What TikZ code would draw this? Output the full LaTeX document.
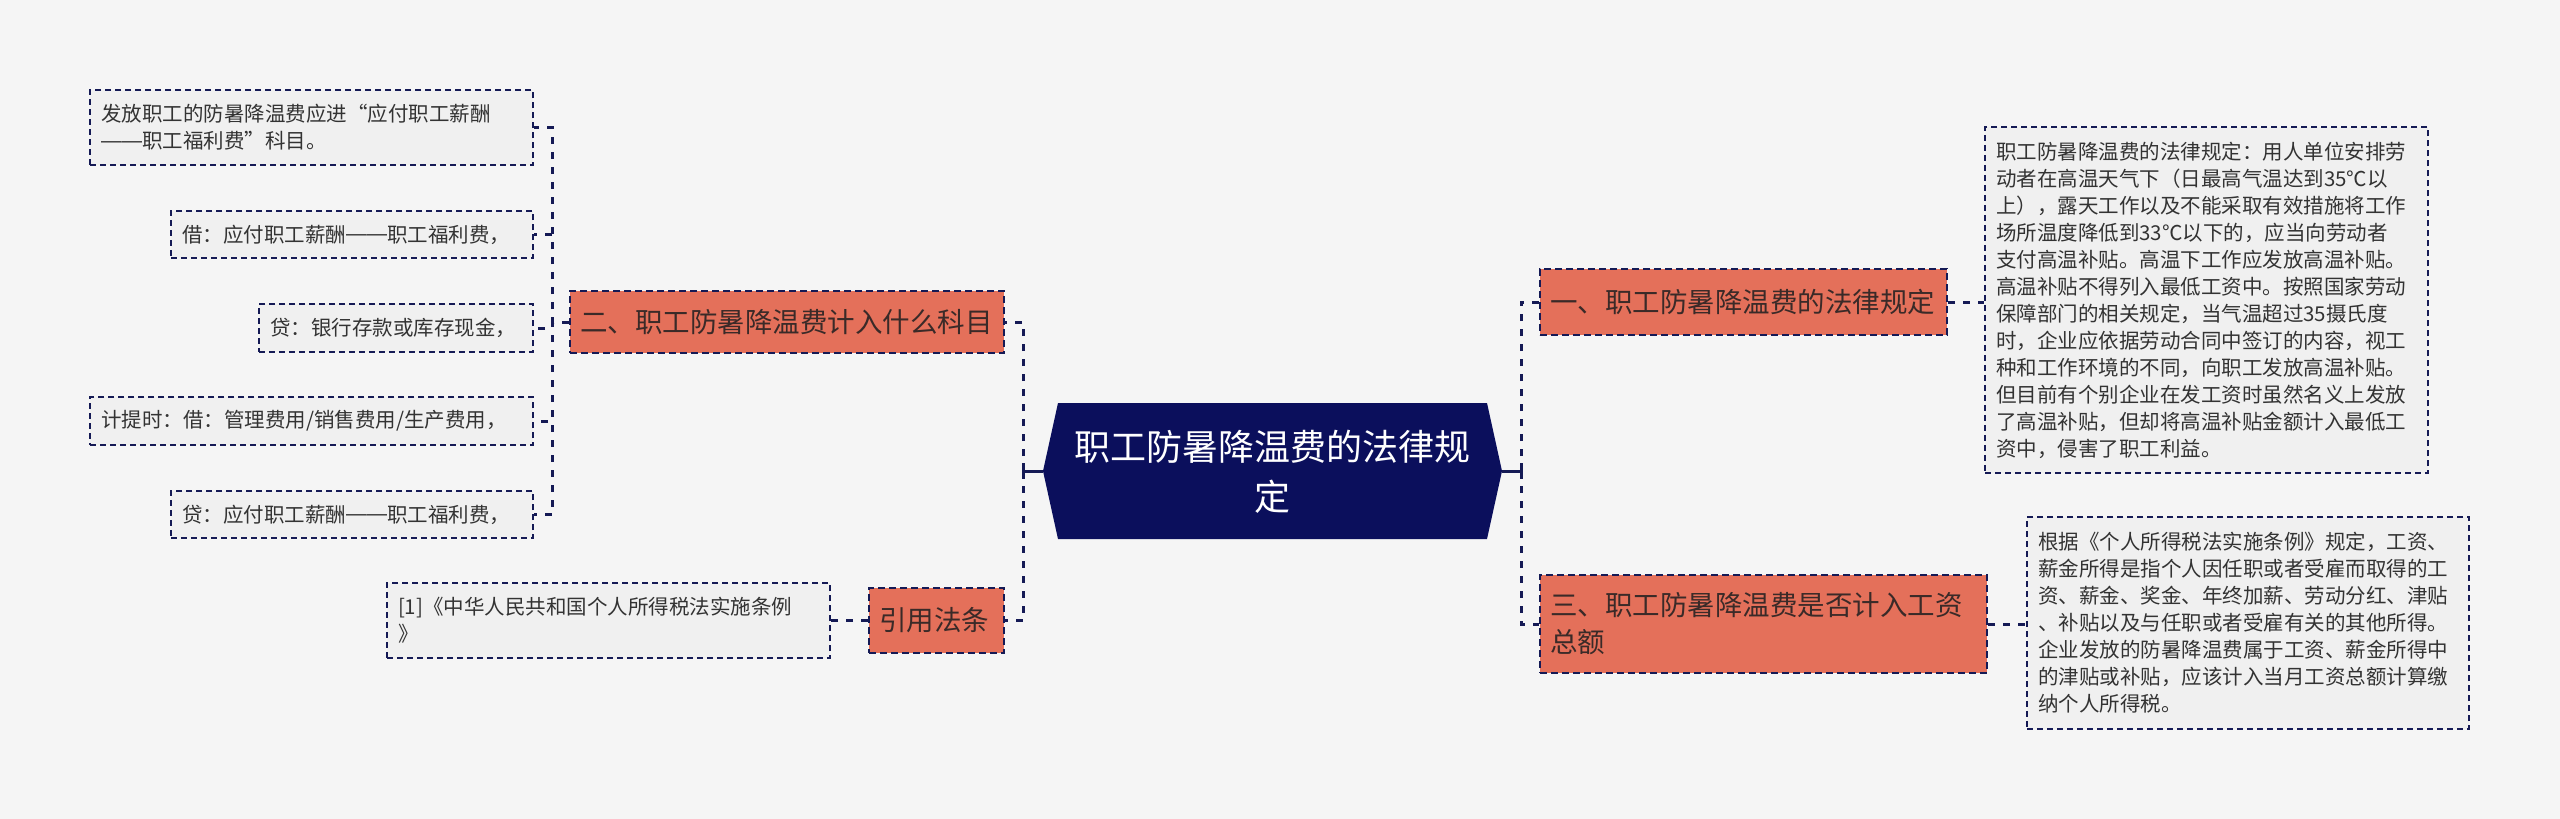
\documentclass[tikz,border=0pt]{standalone}
\usepackage{fontspec}
\setmainfont{Noto Sans CJK SC}
\newfontfamily\dashfont{Liberation Sans}
\usetikzlibrary{calc}
\newcommand\fw[1]{{\addfontfeatures{RawFeature=+fwid}#1}}
\newcommand\dd{{\dashfont\raisebox{0.07em}{——}}}
\definecolor{bgc}{HTML}{F5F5F5}
\definecolor{navy}{HTML}{0B0F5C}
\definecolor{lnc}{HTML}{151A55}
\definecolor{salmon}{HTML}{E4705A}
\definecolor{boxc}{HTML}{F0F0F0}
\definecolor{txt}{HTML}{333333}
\definecolor{ltxt}{HTML}{3A2A28}
\begin{document}
\begin{tikzpicture}[x=1pt,y=-1pt,
  leaf/.style={draw=lnc, line width=2pt, dash pattern=on 6pt off 4pt, fill=boxc,
    inner xsep=11pt, inner ysep=0pt, align=left, text=txt,
    font=\fontsize{20.5}{27}\selectfont},
  lvl/.style={draw=lnc, line width=2pt, dash pattern=on 7pt off 4pt, fill=salmon,
    inner xsep=10pt, inner ysep=0pt, align=left, text=ltxt,
    font=\fontsize{27.5}{37}\selectfont},
  hub/.style={text=white, align=center, font=\fontsize{36}{50}\selectfont},
  conn/.style={draw=lnc, line width=3pt, dash pattern=on 7pt off 8pt},
  stub/.style={draw=lnc, line width=3pt}]
\fill[bgc] (0,0) rectangle (2560,819);
\useasboundingbox (0,0) rectangle (2560,819);

% central topic
\fill[navy] (1043,471) -- (1058,403) -- (1487,403) -- (1502,471) -- (1487,539) -- (1058,539) -- cycle;
\node[hub] (c) at (1272.5,472) {职工防暑降温费的法律规\\定};
\coordinate (cL) at (1043,471);
\coordinate (cR) at (1502,471);

% level 1
\node[lvl, text width=387pt, minimum height=66pt] (n1) at (1743.5,302) {一、职工防暑降温费的法律规定};
\node[lvl, text width=414pt, minimum height=62pt] (n2) at (787,322) {二、职工防暑降温费计入什么科目};
\node[lvl, text width=427pt, minimum height=98pt] (n3) at (1763.5,624) {三、职工防暑降温费是否计入工资\\总额};
\node[lvl, text width=115pt, minimum height=65pt] (n4) at (936.5,620.5) {引用法条};

% leaves right
\node[leaf, text width=421pt, minimum height=346pt] (t1) at (2206.5,300) {职工防暑降温费的法律规定：用人单位安排劳\\动者在高温天气下（日最高气温达到35℃以\\上），露天工作以及不能采取有效措施将工作\\场所温度降低到33℃以下的，应当向劳动者\\支付高温补贴。高温下工作应发放高温补贴。\\高温补贴不得列入最低工资中。按照国家劳动\\保障部门的相关规定，当气温超过35摄氏度\\时，企业应依据劳动合同中签订的内容，视工\\种和工作环境的不同，向职工发放高温补贴。\\但目前有个别企业在发工资时虽然名义上发放\\了高温补贴，但却将高温补贴金额计入最低工\\资中，侵害了职工利益。};
\node[leaf, text width=420pt, minimum height=212pt] (t3) at (2248,623) {根据《个人所得税法实施条例》规定，工资、\\薪金所得是指个人因任职或者受雇而取得的工\\资、薪金、奖金、年终加薪、劳动分红、津贴\\、补贴以及与任职或者受雇有关的其他所得。\\企业发放的防暑降温费属于工资、薪金所得中\\的津贴或补贴，应该计入当月工资总额计算缴\\纳个人所得税。};

% leaves left
\node[leaf, text width=421pt, minimum height=75pt] (r1) at (608.5,620.5) {[1]《中华人民共和国个人所得税法实施条例\\》};
\node[leaf, text width=421pt, minimum height=75pt] (a) at (311.5,127.5) {发放职工的防暑降温费应进\fw{“}应付职工薪酬\\\dd 职工福利费\fw{”}科目。};
\node[leaf, text width=340pt, minimum height=47pt] (b) at (352,234.5) {借：应付职工薪酬\dd 职工福利费，};
\node[leaf, text width=252pt, minimum height=48pt] (cc) at (396,328) {贷：银行存款或库存现金，};
\node[leaf, text width=421pt, minimum height=48pt] (d) at (311.5,421) {计提时：借：管理费用/销售费用/生产费用，};
\node[leaf, text width=340pt, minimum height=47pt] (e) at (352,514.5) {贷：应付职工薪酬\dd 职工福利费，};

% connectors
\coordinate (spL) at (1023,471);
\coordinate (spR) at (1521,471);
\coordinate (sp2) at (552,322);
\draw[stub] (cL) -- (spL);
\draw[stub] ([yshift=8pt]spL) -- ([yshift=-8pt]spL);
\draw[stub] (cR) -- (spR);
\draw[stub] ([yshift=8pt]spR) -- ([yshift=-8pt]spR);
\draw[conn] (spL) |- (n2.east);
\draw[conn] (spL) |- (n4.east);
\draw[conn] (spR) |- (n1.west);
\draw[conn] (spR) |- (n3.west);
\draw[conn] (n1.east) -- (n1.east -| t1.west);
\draw[conn] (n3.east) -- (n3.east -| t3.west);
\draw[conn] (n4.west) -- (n4.west -| r1.east);
\foreach \t in {a,b,cc,d,e} \draw[conn] (n2.west) -- (sp2) |- (\t.east);
\end{tikzpicture}
\end{document}
